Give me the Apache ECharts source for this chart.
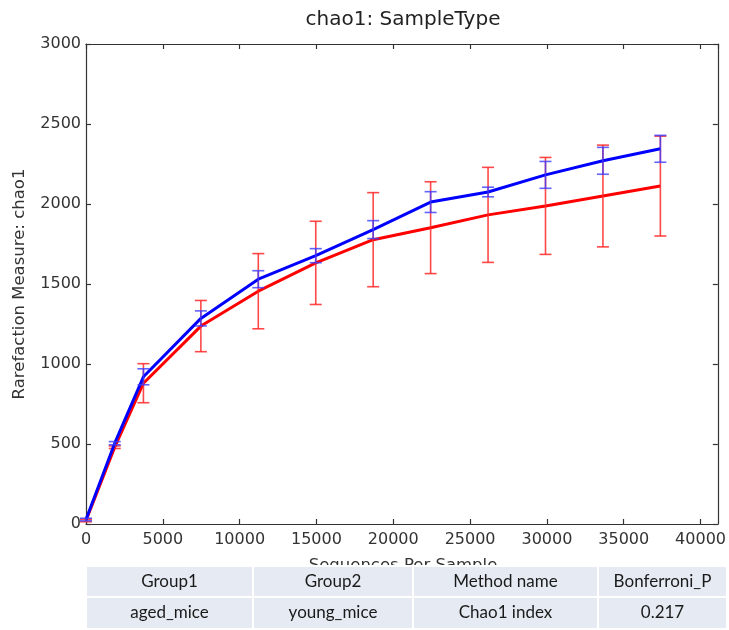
<!DOCTYPE html>
<html>
<head>
<meta charset="utf-8">
<script src="https://cdn.jsdelivr.net/npm/echarts@6/dist/echarts.min.js"></script>
<style>
  html, body { margin: 0; padding: 0; background: #fff; }
  #chart { width: 729px; height: 630px; }
</style>
</head>
<body>
<div id="chart"></div>
<script>
// Rarefaction depths (sequences per sample)
const depths = [0, 1870, 3738, 7477, 11215, 14954, 18692, 22431, 26169, 29908, 33646, 37385];

// Mean chao1 per depth and its error half-width, per group
const agedMean = [22, 480, 880, 1237, 1455, 1632, 1777, 1852, 1932, 1988, 2050, 2112];
const agedErr  = [8, 8, 122, 160, 235, 260, 294, 287, 297, 303, 318, 312];
const youngMean = [28, 505, 920, 1285, 1530, 1677, 1840, 2012, 2075, 2182, 2270, 2345];
const youngErr  = [8, 10, 50, 47, 53, 44, 56, 65, 30, 84, 84, 84];

// Axis ticks
const xTicks = [0, 5000, 10000, 15000, 20000, 25000, 30000, 35000, 40000];
const yTicks = [0, 500, 1000, 1500, 2000, 2500, 3000];

// Statistics table below the plot
const tableHeader = ['Group1', 'Group2', 'Method name', 'Bonferroni_P'];
const tableRow = ['aged_mice', 'young_mice', 'Chao1 index', '0.217'];

const titleText = 'chao1: SampleType';
const xName = 'Sequences Per Sample';
const yName = 'Rarefaction Measure: chao1';

const X_MAX = 41124;
const tickFont = { fontFamily: 'DejaVu Sans', fontSize: 16, color: '#333' };
const frameLine = { show: true, onZero: false, lineStyle: { color: '#333', width: 1.2 } };
const innerTick = { show: true, inside: true, length: 5, lineStyle: { color: '#333', width: 1.2 } };

const chart = echarts.init(document.getElementById('chart'), null, { renderer: 'canvas' });

function pairs(xs, ys) { return xs.map((x, i) => [x, ys[i]]); }
function bars(xs, m, e) { return xs.map((x, i) => [x, m[i] - e[i], m[i] + e[i]]); }

function errRender(color, capHalf) {
  return function (params, api) {
    const x = api.value(0);
    const lo = api.coord([x, api.value(1)]);
    const hi = api.coord([x, api.value(2)]);
    const st = { stroke: color, lineWidth: 1.6 };
    return {
      type: 'group',
      children: [
        { type: 'line', shape: { x1: lo[0], y1: lo[1], x2: hi[0], y2: hi[1] }, style: st },
        { type: 'line', shape: { x1: hi[0] - capHalf, y1: hi[1], x2: hi[0] + capHalf, y2: hi[1] }, style: st },
        { type: 'line', shape: { x1: lo[0] - capHalf, y1: lo[1], x2: lo[0] + capHalf, y2: lo[1] }, style: st }
      ]
    };
  };
}

// Table geometry
const colEdges = [86, 253, 413, 598, 727];
const rowEdges = [566, 597, 629];
const tableEls = [];
[tableHeader, tableRow].forEach((row, r) => {
  row.forEach((txt, c) => {
    tableEls.push({
      type: 'rect', z: 100,
      shape: { x: colEdges[c] + 1, y: rowEdges[r] + 1, width: colEdges[c + 1] - colEdges[c] - 2, height: rowEdges[r + 1] - rowEdges[r] - 2 },
      style: { fill: '#e6ebf3' }
    });
    tableEls.push({
      type: 'text', z: 101,
      x: (colEdges[c] + colEdges[c + 1]) / 2, y: (rowEdges[r] + rowEdges[r + 1]) / 2,
      style: { text: txt, fontFamily: 'Lato', fontSize: 17, fill: '#1a1a1a', textAlign: 'center', textVerticalAlign: 'middle' }
    });
  });
});
// white backdrop so the axis name is cut by the table
tableEls.unshift({ type: 'rect', z: 99, shape: { x: 84, y: 565, width: 645, height: 65 }, style: { fill: '#fff' } });

const xLabelFmt = v => (xTicks.indexOf(v) >= 0 ? String(v) : '');
const yLabelFmt = v => (yTicks.indexOf(v) >= 0 ? String(v) : '');

chart.setOption({
  animation: false,
  backgroundColor: '#fff',
  grid: { left: 86, top: 44, width: 634, height: 480, containLabel: false },
  xAxis: [
    { type: 'value', position: 'bottom', min: 0, max: X_MAX, interval: 5000,
      axisLine: frameLine, axisTick: innerTick, splitLine: { show: false },
      axisLabel: Object.assign({ margin: 8, formatter: xLabelFmt, showMaxLabel: false }, tickFont) },
    { type: 'value', position: 'top', min: 0, max: X_MAX, interval: 5000,
      axisLine: frameLine, axisTick: innerTick, splitLine: { show: false },
      axisLabel: { show: false } }
  ],
  yAxis: [
    { type: 'value', position: 'left', min: 0, max: 3000, interval: 500,
      axisLine: frameLine, axisTick: innerTick, splitLine: { show: false },
      axisLabel: Object.assign({ margin: 5, formatter: yLabelFmt }, tickFont) },
    { type: 'value', position: 'right', min: 0, max: 3000, interval: 500,
      axisLine: frameLine, axisTick: innerTick, splitLine: { show: false },
      axisLabel: { show: false } }
  ],
  graphic: [
    { type: 'text', x: 403, y: 20, style: { text: titleText, fontFamily: 'DejaVu Sans', fontSize: 20, fill: '#222', textAlign: 'center', textVerticalAlign: 'middle' } },
    { type: 'text', x: 20, y: 284, rotation: Math.PI / 2, style: { text: yName, fontFamily: 'DejaVu Sans', fontSize: 16.5, fill: '#333', textAlign: 'center', textVerticalAlign: 'middle' } },
    { type: 'text', x: 403, y: 566, z: 1, style: { text: xName, fontFamily: 'DejaVu Sans', fontSize: 16.5, fill: '#333', textAlign: 'center', textVerticalAlign: 'middle' } }
  ].concat(tableEls),
  series: [
    { name: 'aged_mice', type: 'line', data: pairs(depths, agedMean), showSymbol: false, symbol: 'none',
      lineStyle: { color: '#ff0000', width: 3 }, z: 2 },
    { name: 'aged_mice err', type: 'custom', data: bars(depths, agedMean, agedErr),
      encode: { x: 0, y: [1, 2] }, renderItem: errRender('rgba(255,40,40,0.85)', 6), z: 3 },
    { name: 'young_mice', type: 'line', data: pairs(depths, youngMean), showSymbol: false, symbol: 'none',
      lineStyle: { color: '#0000ff', width: 3 }, z: 4 },
    { name: 'young_mice err', type: 'custom', data: bars(depths, youngMean, youngErr),
      encode: { x: 0, y: [1, 2] }, renderItem: errRender('rgba(60,60,255,0.8)', 6), z: 5 }
  ]
});
</script>
</body>
</html>
